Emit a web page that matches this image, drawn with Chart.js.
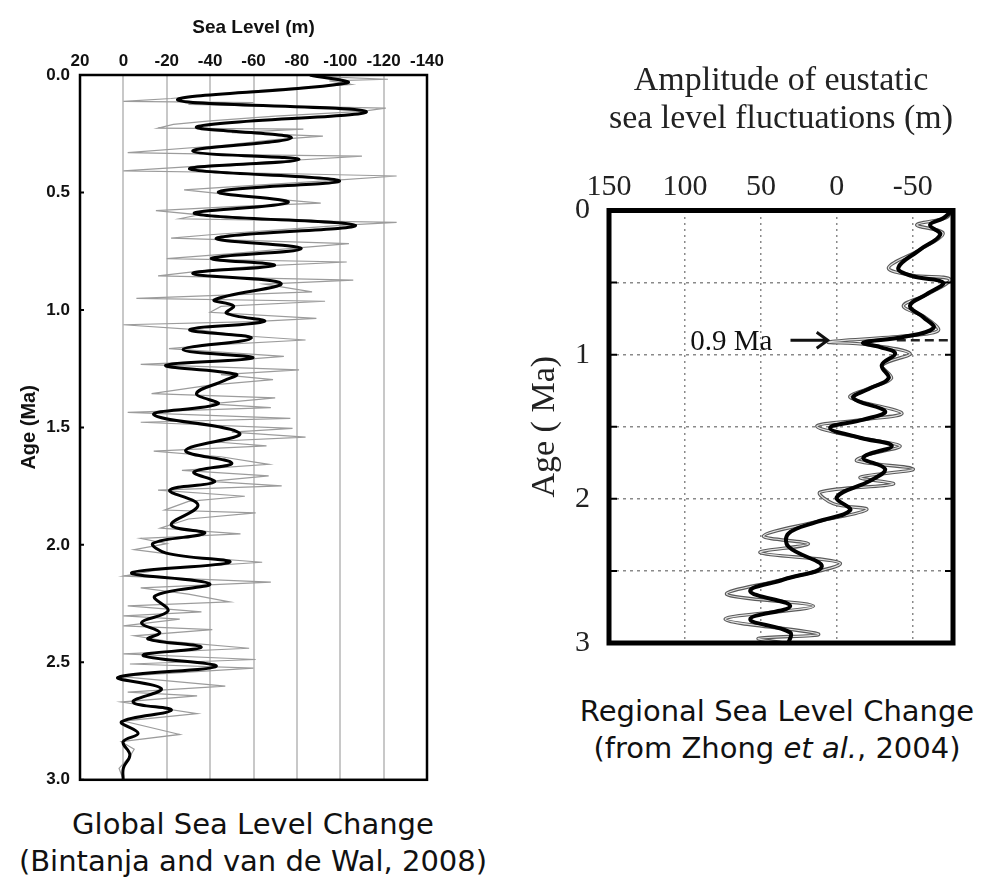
<!DOCTYPE html>
<html>
<head>
<meta charset="utf-8">
<title>Sea level change</title>
<script src="https://cdn.jsdelivr.net/npm/chart.js@4.4.0/dist/chart.umd.min.js"></script>
<style>
  body { margin: 0; background: #fff; }
  #page { position: relative; width: 984px; height: 878px; overflow: hidden; }
  .panel { position: absolute; }
  .caption {
    position: absolute; width: 500px; text-align: center; white-space: nowrap;
    font-family: 'DejaVu Sans', Verdana, sans-serif; font-size: 29px; line-height: 37px; color: #111;
  }
</style>
</head>
<body>
<div id="page">
  <canvas id="globalChart" class="panel" width="470" height="800" style="left:0;top:0"></canvas>
  <canvas id="regionalChart" class="panel" width="484" height="680" style="left:500px;top:0"></canvas>
  <div class="caption" style="left:3px;top:806px">Global Sea Level Change<br>(Bintanja and van de Wal, 2008)</div>
  <div class="caption" style="left:527px;top:693px">Regional Sea Level Change<br>(from Zhong <i>et al.</i>, 2004)</div>
</div>
<script>
// --- global record (Bintanja & van de Wal, 2008) ---
// smoothed curve (thick black)
const globalSmoothAge = [0, 0.034, 0.106, 0.156, 0.22, 0.267, 0.324, 0.36, 0.4, 0.45, 0.497, 0.542, 0.59, 0.64,
  0.694, 0.739, 0.78, 0.81, 0.845, 0.887, 0.957, 0.983, 1.014, 1.049, 1.084, 1.12, 1.169, 1.204, 1.236, 1.274,
  1.3, 1.356, 1.4, 1.446, 1.525, 1.598, 1.652, 1.69, 1.732, 1.767, 1.831, 1.915, 1.95, 1.993, 2.035, 2.074,
  2.119, 2.166, 2.218, 2.281, 2.331, 2.373, 2.401, 2.436, 2.471, 2.517, 2.564, 2.612, 2.669, 2.704, 2.753,
  2.802, 2.838, 2.894, 2.95, 3.0];
const globalSmoothLevel = [-86, -103, -25, -112, -34, -77.5, -32, -81, -30.6, -99.6, -44, -76, -33, -107,
  -43, -82, -40.6, -69.7, -32, -72.7, -42, -50.8, -47.5, -65, -30.6, -59, -27.5, -59.7, -19.5, -52,
  -46.7, -33.7, -43.6, -14, -53.6, -28.7, -50, -32.5, -42, -21.4, -34.4, -22.1, -37.5, -13.7, -19.8, -49,
  -3.8, -39.8, -14.5, -20.6, -8.4, -16.8, -11.4, -35.9, -9.1, -42.8, 2.4, -17.5, -4.5, -22.1, 0.8,
  -6.8, 0.1, -3, 0, 0.1];
// raw high-resolution record (thin grey)
const globalRawAge = [0, 0.01, 0.018, 0.025, 0.04, 0.06, 0.08, 0.1, 0.112, 0.118, 0.125, 0.141, 0.155, 0.175,
  0.195, 0.21, 0.226, 0.23, 0.245, 0.26, 0.275, 0.3, 0.33, 0.34, 0.345, 0.365, 0.385, 0.408, 0.415, 0.43,
  0.45, 0.47, 0.489, 0.52, 0.545, 0.56, 0.577, 0.595, 0.612, 0.627, 0.64, 0.66, 0.68, 0.694, 0.718, 0.74,
  0.76, 0.782, 0.796, 0.815, 0.835, 0.855, 0.873, 0.89, 0.923, 0.951, 0.963, 0.985, 1.01, 1.036, 1.05,
  1.063, 1.085, 1.11, 1.128, 1.15, 1.165, 1.198, 1.215, 1.232, 1.255, 1.275, 1.297, 1.32, 1.356, 1.374,
  1.4, 1.416, 1.436, 1.462, 1.478, 1.504, 1.52, 1.541, 1.56, 1.579, 1.601, 1.625, 1.657, 1.683, 1.706,
  1.73, 1.749, 1.767, 1.793, 1.815, 1.852, 1.864, 1.89, 1.929, 1.953, 1.972, 1.995, 2.02, 2.05, 2.074,
  2.1, 2.133, 2.159, 2.183, 2.21, 2.243, 2.26, 2.285, 2.302, 2.316, 2.345, 2.361, 2.387, 2.41, 2.44,
  2.464, 2.488, 2.507, 2.525, 2.56, 2.601, 2.627, 2.643, 2.669, 2.718, 2.75, 2.807, 2.838, 2.87, 2.9,
  2.951, 3.0];
const globalRawLevel = [-85, -100, -122, -95, -105, -70, -45, -22, 0, -60, -30, -121, -110, -70,
  -40, -23, -16, -83, -50, -92, -70, -45, -2, -60, -110, -75, -40, 0, -50, -126,
  -95, -60, -28, -60, -91, -50, -15, -35, -26, -126, -100, -70, -40, -22, -104, -75,
  -50, -20, -103, -60, -35, -16, -106, -65, -87, -6, -93, -45, -40, -89, -60,
  0, -35, -55, -84, -40, -21, -74, -50, -8, -81, -45, -69, -40, -13, -70,
  -40, -68, -2, -77, -8, -78, -50, -84, -40, -66, -14, -45, -67, -27, -67,
  -40, -73, -16, -56, -30, -19, -61, -30, -17, -54, -8, -20, -5, -30, -64,
  -20, 0, -68, -8, -30, -49, -2, -36, 0, -26, 0, -41, -5, -20, -58,
  0, -61, -3, -60, 2, -47, -2, -34, 1, -34, 0, -26, 1, -5, -3,
  2, 0];
const globalLevelTicks = [20, 0, -20, -40, -60, -80, -100, -120, -140];
const globalAgeTicks = [0, 0.5, 1, 1.5, 2, 2.5, 3];

// --- regional record (Zhong et al., 2004) ---
const regionalSmoothAge = [0, 0.054, 0.1, 0.168, 0.271, 0.397, 0.454, 0.5, 0.58, 0.661, 0.74, 0.816, 0.878,
  0.917, 0.947, 0.992, 1.073, 1.164, 1.233, 1.301, 1.393, 1.45, 1.508, 1.576, 1.633, 1.714, 1.794, 1.874,
  1.988, 2.08, 2.16, 2.24, 2.332, 2.469, 2.56, 2.641, 2.744, 2.835, 2.927, 3.0];
const regionalSmoothAmp = [-76, -70, -61.4, -68, -54.8, -40.5, -49.3, -70, -59.2, -48.2, -57, -63.6, -43.8,
  -17.5, -28.5, -38.4, -29.6, -34, -21.9, -10.9, -31.8, -17.5, 4.4, -15.3, -36.2, -17.5, -31.8, -21.9,
  0, -8.8, 13.2, 31.8, 31.8, 9.9, 35.1, 57, 30.7, 57, 30.7, 31.8];
const regionalRawAge = [0, 0.05, 0.1, 0.157, 0.27, 0.397, 0.45, 0.477, 0.58, 0.661, 0.74, 0.832, 0.87, 0.912,
  0.93, 0.992, 1.073, 1.164, 1.23, 1.297, 1.405, 1.45, 1.496, 1.576, 1.633, 1.69, 1.737, 1.794, 1.851,
  1.897, 1.954, 2.034, 2.075, 2.16, 2.258, 2.313, 2.373, 2.446, 2.56, 2.663, 2.744, 2.835, 2.938, 2.968, 3.0];
const regionalRawAmp = [-76, -72, -52.6, -70, -55, -34, -50, -74.5, -60, -43.8, -58, -66.8, -45, 5.5,
  -20, -48.2, -30, -36, -22, -8.8, -42.8, -18, 13.2, -15, -41.6, -22, -13.2, -50.4, -15.3,
  -37.2, 11, 2.2, -19.7, 14, 48.3, 18.7, 50.5, -2.2, 36, 72.4, 15.4, 73.5, 12.1, 51.6, 35];
const regionalAmpTicks = [150, 100, 50, 0, -50];
const regionalAgeTicks = [0, 0.5, 1, 1.5, 2, 2.5, 3];
const markAge = 0.9;
const markLabel = '0.9 Ma';
const markDashAmp = [-39.5, -76.5];

const SANS = '"Liberation Sans", Arial, sans-serif';
const SERIF = '"Liberation Serif", "Times New Roman", serif';

function toPoints(ages, values) {
  return ages.map((a, i) => ({ x: values[i], y: a }));
}

// box round the plot area, plus short inner ticks on the age axis
const framePlugin = {
  id: 'frame',
  afterDatasetsDraw(chart, args, opts) {
    const { ctx, chartArea: a, scales } = chart;
    ctx.save();
    ctx.strokeStyle = opts.color || '#000';
    ctx.lineWidth = opts.width || 2;
    ctx.strokeRect(a.left, a.top, a.right - a.left, a.bottom - a.top);
    if (opts.tickLength) {
      ctx.lineWidth = opts.tickWidth || 1.5;
      ctx.beginPath();
      scales.y.ticks.forEach(t => {
        const py = scales.y.getPixelForValue(t.value);
        ctx.moveTo(a.left, py);
        ctx.lineTo(a.left + opts.tickLength, py);
        if (opts.bothSides) {
          ctx.moveTo(a.right, py);
          ctx.lineTo(a.right - opts.tickLength, py);
        }
      });
      ctx.stroke();
    }
    ctx.restore();
  }
};

// "0.9 Ma ->" annotation
const markerPlugin = {
  id: 'marker',
  afterDatasetsDraw(chart, args, opts) {
    if (!opts.label) return;
    const { ctx, scales: { x, y } } = chart;
    const py = y.getPixelForValue(opts.age);
    const x0 = x.getPixelForValue(opts.from);
    const x1 = x.getPixelForValue(opts.to);
    ctx.save();
    ctx.strokeStyle = '#111';
    ctx.lineWidth = 3;
    ctx.beginPath();
    ctx.moveTo(x0, py);
    ctx.lineTo(x1, py);
    ctx.moveTo(x1 - 11, py - 8);
    ctx.lineTo(x1, py);
    ctx.lineTo(x1 - 11, py + 8);
    ctx.stroke();
    ctx.font = '29px ' + SERIF;
    ctx.fillStyle = '#111';
    ctx.textAlign = 'right';
    ctx.textBaseline = 'middle';
    ctx.fillText(opts.label, x0 - 18, py + 2);
    ctx.restore();
  }
};

const globalChart = new Chart(document.getElementById('globalChart'), {
  type: 'scatter',
  data: {
    datasets: [
      {
        data: toPoints(globalSmoothAge, globalSmoothLevel),
        showLine: true, borderColor: '#000', borderWidth: 3, tension: 0.4,
        pointRadius: 0, order: 0
      },
      {
        data: toPoints(globalRawAge, globalRawLevel),
        showLine: true, borderColor: '#9c9c9c', borderWidth: 1.2, tension: 0,
        pointRadius: 0, order: 1
      }
    ]
  },
  options: {
    responsive: false,
    animation: false,
    events: [],
    layout: { padding: { left: 0, top: 0, right: 43, bottom: 14 } },
    scales: {
      x: {
        type: 'linear', position: 'top', min: -140, max: 20, reverse: true,
        afterBuildTicks: s => { s.ticks = globalLevelTicks.map(v => ({ value: v })); },
        afterFit: s => { s.height = 75; },
        ticks: { autoSkip: false, maxRotation: 0, padding: 3, color: '#111',
          font: { family: SANS, size: 17, weight: 'bold' } },
        grid: { color: '#c8c8c8', lineWidth: 2, drawTicks: false },
        border: { display: false },
        title: { display: true, text: 'Sea Level (m)', color: '#111', padding: { top: 16, bottom: 0 },
          font: { family: SANS, size: 19, weight: 'bold' } }
      },
      y: {
        type: 'linear', position: 'left', min: 0, max: 3, reverse: true,
        afterBuildTicks: s => { s.ticks = globalAgeTicks.map(v => ({ value: v })); },
        afterFit: s => { s.width = 80; },
        ticks: { padding: 10, color: '#111', callback: v => v.toFixed(1),
          font: { family: SANS, size: 17, weight: 'bold' } },
        grid: { display: false, drawTicks: false },
        border: { display: false },
        title: { display: true, text: 'Age (Ma)', color: '#111', padding: { top: 17, bottom: 0 },
          font: { family: SANS, size: 20, weight: 'bold' } }
      }
    },
    plugins: {
      legend: { display: false },
      tooltip: { enabled: false },
      frame: { width: 2.5, tickLength: 4, tickWidth: 2 },
      marker: {}
    }
  },
  plugins: [framePlugin, markerPlugin]
});

const regionalChart = new Chart(document.getElementById('regionalChart'), {
  type: 'scatter',
  data: {
    datasets: [
      {
        data: toPoints(regionalSmoothAge, regionalSmoothAmp),
        showLine: true, borderColor: '#000', borderWidth: 4, tension: 0.4,
        pointRadius: 0, order: 0
      },
      {
        data: toPoints([markAge, markAge], markDashAmp),
        showLine: true, borderColor: '#222', borderWidth: 2.5, borderDash: [9, 5],
        pointRadius: 0, order: 1
      },
      {
        data: toPoints(regionalRawAge, regionalRawAmp),
        showLine: true, borderColor: '#e2e2e2', borderWidth: 1.2, tension: 0.35,
        pointRadius: 0, order: 2
      },
      {
        data: toPoints(regionalRawAge, regionalRawAmp),
        showLine: true, borderColor: '#5a5a5a', borderWidth: 3.4, tension: 0.35,
        pointRadius: 0, order: 3
      }
    ]
  },
  options: {
    responsive: false,
    animation: false,
    events: [],
    layout: { padding: { left: 0, top: 0, right: 31, bottom: 33 } },
    scales: {
      x: {
        type: 'linear', position: 'top', min: -76.5, max: 150, reverse: true,
        afterBuildTicks: s => { s.ticks = regionalAmpTicks.map(v => ({ value: v })); },
        afterFit: s => { s.height = 210.5; },
        ticks: { autoSkip: false, maxRotation: 0, padding: 5, color: '#222',
          font: { family: SERIF, size: 30 } },
        grid: { color: '#8a8a8a', lineWidth: 1.5, drawTicks: false },
        border: { display: false, dash: [2, 4] },
        title: { display: true, text: ['Amplitude of eustatic', 'sea level fluctuations (m)'], color: '#222',
          padding: { top: 63, bottom: 0 }, font: { family: SERIF, size: 34, lineHeight: 1.09 } }
      },
      y: {
        type: 'linear', position: 'left', min: 0, max: 3, reverse: true,
        afterBuildTicks: s => { s.ticks = regionalAgeTicks.map(v => ({ value: v })); },
        afterFit: s => { s.width = 109; },
        ticks: { padding: 19, color: '#222', callback: v => (Number.isInteger(v) ? String(v) : ''),
          font: { family: SERIF, size: 30 } },
        grid: { color: '#8a8a8a', lineWidth: 1.5, drawTicks: false },
        border: { display: false, dash: [3, 4] },
        title: { display: true, text: 'Age ( Ma)', color: '#222', padding: { top: 25, bottom: 0 },
          font: { family: SERIF, size: 34 } }
      }
    },
    plugins: {
      legend: { display: false },
      tooltip: { enabled: false },
      frame: { width: 5, tickLength: 8, tickWidth: 2, bothSides: true },
      marker: { age: markAge, from: 30.5, to: 6, label: markLabel }
    }
  },
  plugins: [framePlugin, markerPlugin]
});
</script>
</body>
</html>
